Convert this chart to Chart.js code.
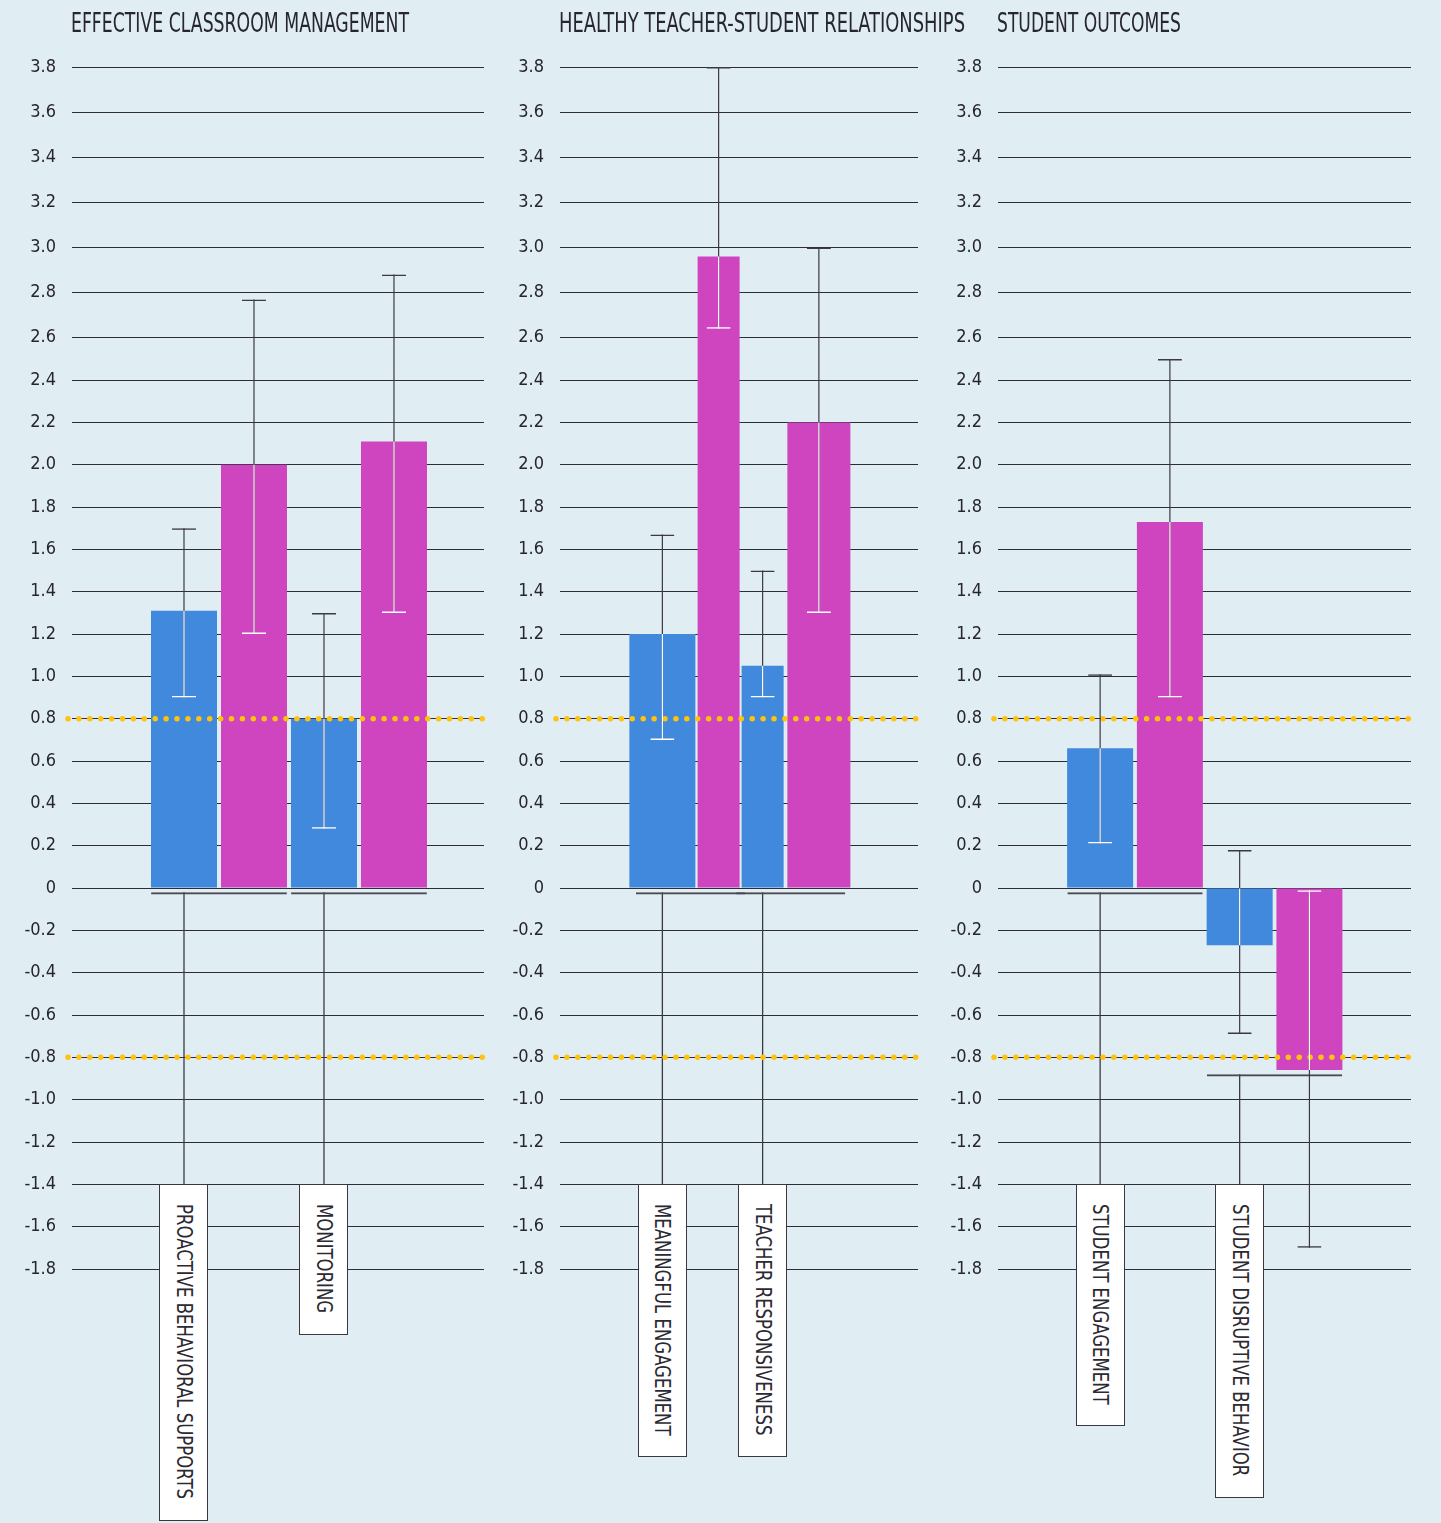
<!DOCTYPE html>
<html><head><meta charset="utf-8"><title>Effect sizes</title>
<script src="https://cdn.jsdelivr.net/npm/chart.js@4.4.1/dist/chart.umd.min.js"></script>
<style>
html,body{margin:0;padding:0;background:#E0EDF3;}
#stage{position:relative;width:1441px;height:1523px;overflow:hidden;background:#E0EDF3;}
#stage canvas{position:absolute;top:0;}
.title{position:absolute;top:8px;white-space:nowrap;font-family:"Liberation Sans Narrow","DejaVu Sans Condensed","Liberation Sans",sans-serif;font-size:26.5px;line-height:30px;color:#27252e;transform-origin:left top;display:inline-block;}
.lbl{position:absolute;box-sizing:border-box;width:49px;background:#fff;border:1.5px solid #3a3842;}
.lbltxt{position:absolute;top:19px;left:50%;writing-mode:vertical-rl;white-space:nowrap;font-family:"Liberation Sans Narrow","DejaVu Sans Condensed","Liberation Sans",sans-serif;font-size:22px;line-height:24px;color:#2b2932;transform-origin:center top;}
</style></head>
<body><div id="stage"></div>
<script>
// ---------------- DATA ----------------
const panelTitles = ['EFFECTIVE CLASSROOM MANAGEMENT', 'HEALTHY TEACHER-STUDENT RELATIONSHIPS', 'STUDENT OUTCOMES'];

const categories1 = ['PROACTIVE BEHAVIORAL SUPPORTS', 'MONITORING'];
const blueValues1 = [1.31, 0.80];
const blueLow1 = [0.90, 0.28];
const blueHigh1 = [1.70, 1.30];
const magentaValues1 = [2.00, 2.11];
const magentaLow1 = [1.20, 1.30];
const magentaHigh1 = [2.77, 2.88];

const categories2 = ['MEANINGFUL ENGAGEMENT', 'TEACHER RESPONSIVENESS'];
const blueValues2 = [1.20, 1.05];
const blueLow2 = [0.70, 0.90];
const blueHigh2 = [1.67, 1.50];
const magentaValues2 = [2.96, 2.20];
const magentaLow2 = [2.64, 1.30];
const magentaHigh2 = [3.80, 3.00];

const categories3 = ['STUDENT ENGAGEMENT', 'STUDENT DISRUPTIVE BEHAVIOR'];
const blueValues3 = [0.66, -0.27];
const blueLow3 = [0.21, -0.69];
const blueHigh3 = [1.01, 0.18];
const magentaValues3 = [1.73, -0.86];
const magentaLow3 = [0.90, -1.70];
const magentaHigh3 = [2.50, -0.01];

const yTickValues = [3.8, 3.6, 3.4, 3.2, 3.0, 2.8, 2.6, 2.4, 2.2, 2.0, 1.8, 1.6, 1.4, 1.2, 1.0, 0.8, 0.6, 0.4, 0.2, 0,
  -0.2, -0.4, -0.6, -0.8, -1.0, -1.2, -1.4, -1.6, -1.8];
const thresholdValues = [0.8, -0.8];
const labelBoxTopValue = -1.4;

// ---------------- STYLE / LAYOUT ----------------
const BLUE = '#4089DD', MAGENTA = '#CF45C0', GOLD = '#FFC20E';
const DARK = '#3b3944', WHITE = '#ffffff', GRID = '#2e2c37', TEXT = '#27252e';
const FONT = '"Liberation Sans Narrow", "DejaVu Sans Condensed", "Liberation Sans", sans-serif';
const STAGE_H = 1523, PAD_TOP = 67, PAD_BOTTOM = 254, AXIS_W = 72;
const CONNECTOR_GAP = 0.02;
const TITLE_TARGET_W = [338, 406, 184], LABEL1_TARGET_LEN = 295;
const SCALE_BREAK = 2.6, UPPER_STRETCH = 1.066;
const panelLayout = [
  {left: 0, width: 500, padRight: 16, xMin: -1.05, xMax: 1.893, catPct: 1,
   barW: {blue: [66, 66], mag: [66, 66]}},
  {left: 488, width: 442, padRight: 12, xMin: -1.3017, xMax: 2.2693, catPct: 1.122,
   barW: {blue: [66, 42], mag: [42, 63]}},
  {left: 926, width: 515, padRight: 30, xMin: -0.982, xMax: 1.978, catPct: 1,
   barW: {blue: [66, 66], mag: [66, 66]}}
];

// value axis whose upper part (above 2.6) is drawn slightly stretched, as in the original
class PiecewiseScale extends Chart.LinearScale {
  _fwd(v) { return v > SCALE_BREAK ? SCALE_BREAK + (v - SCALE_BREAK) * UPPER_STRETCH : v; }
  _inv(t) { return t > SCALE_BREAK ? SCALE_BREAK + (t - SCALE_BREAK) / UPPER_STRETCH : t; }
  getPixelForValue(value) {
    if (value === null || value === undefined || isNaN(value)) return NaN;
    const a = this._fwd(this.min), b = this._fwd(this.max);
    return this.getPixelForDecimal((this._fwd(value) - a) / (b - a));
  }
  getValueForPixel(pixel) {
    const a = this._fwd(this.min), b = this._fwd(this.max);
    return this._inv(a + this.getDecimalForPixel(pixel) * (b - a));
  }
}
PiecewiseScale.id = 'piecewise';
Chart.register(PiecewiseScale);

const panelSeries = [
  {cats: categories1, blue: blueValues1, blueLo: blueLow1, blueHi: blueHigh1, mag: magentaValues1, magLo: magentaLow1, magHi: magentaHigh1},
  {cats: categories2, blue: blueValues2, blueLo: blueLow2, blueHi: blueHigh2, mag: magentaValues2, magLo: magentaLow2, magHi: magentaHigh2},
  {cats: categories3, blue: blueValues3, blueLo: blueLow3, blueHi: blueHigh3, mag: magentaValues3, magLo: magentaLow3, magHi: magentaHigh3}
];

function insideBar(v, x) { return x >= Math.min(0, v) - 1e-9 && x <= Math.max(0, v) + 1e-9; }
const CLEAR = 'rgba(0,0,0,0)';

function capSet(values, lows, highs, stack, end) {
  return {
    type: 'bar', stack, order: 1, clip: false,
    data: values.map((v, i) => [lows[i], highs[i]]),
    backgroundColor: CLEAR,
    borderColor: values.map((v, i) => insideBar(v, end === 'top' ? highs[i] : lows[i]) ? WHITE : DARK),
    borderWidth: end === 'top' ? {top: 1.5, right: 0, bottom: 0, left: 0} : {top: 0, right: 0, bottom: 1.5, left: 0},
    borderSkipped: false, maxBarThickness: 24
  };
}
function stemDark(values, lows, highs, stack) {
  return {type: 'bar', stack, order: 4, clip: false, data: values.map((v, i) => [lows[i], highs[i]]),
    backgroundColor: DARK, borderWidth: 0, maxBarThickness: 1.2};
}
function stemWhite(values, lows, highs, stack) {
  return {type: 'bar', stack, order: 3, clip: false,
    data: values.map((v, i) => {
      const a = Math.max(lows[i], Math.min(0, v)), b = Math.min(highs[i], Math.max(0, v));
      return b > a ? [a, b] : null;
    }),
    backgroundColor: WHITE, borderWidth: 0, maxBarThickness: 1.2};
}
// one dataset per group so that each bar can keep the width it has in the original
function barSets(values, stack, color, widths) {
  return values.map((v, g) => ({
    type: 'bar', stack, order: 6, backgroundColor: color, borderWidth: 0,
    data: values.map((w, j) => j === g ? w : null),
    barPercentage: 1.4, maxBarThickness: widths[g]
  }));
}

const stage = document.getElementById('stage');
const charts = [];

panelSeries.forEach((P, pi) => {
  const L = panelLayout[pi];
  const cv = document.createElement('canvas');
  cv.width = L.width; cv.height = STAGE_H;
  cv.style.left = L.left + 'px'; cv.style.width = L.width + 'px'; cv.style.height = STAGE_H + 'px';
  stage.appendChild(cv);

  const groupIdx = P.cats.map((c, i) => i);
  const connLevel = P.blue.map((b, i) => Math.min(0, b, P.mag[i]) - CONNECTOR_GAP);
  const connData = connLevel.map(c => [labelBoxTopValue, c]);
  const pxPerUnit = (L.width - AXIS_W - L.padRight) / (L.xMax - L.xMin);
  const ext = 4 / pxPerUnit;

  const datasets = [];
  datasets.push(capSet(P.blue, P.blueLo, P.blueHi, 'a', 'top'));
  datasets.push(capSet(P.blue, P.blueLo, P.blueHi, 'a', 'bottom'));
  datasets.push(capSet(P.mag, P.magLo, P.magHi, 'b', 'top'));
  datasets.push(capSet(P.mag, P.magLo, P.magHi, 'b', 'bottom'));
  datasets.push(stemWhite(P.blue, P.blueLo, P.blueHi, 'a'));
  datasets.push(stemWhite(P.mag, P.magLo, P.magHi, 'b'));
  const anchorIndex = datasets.length;
  datasets.push(stemDark(P.blue, P.blueLo, P.blueHi, 'a'));
  datasets.push(stemDark(P.mag, P.magLo, P.magHi, 'b'));
  thresholdValues.forEach(t => datasets.push({
    type: 'line', order: 5, clip: false,
    data: [{x: L.xMin - ext, y: t}, {x: L.xMax + ext, y: t}],
    borderColor: GOLD, borderWidth: 5.5, borderDash: [0, 10.9], borderCapStyle: 'round',
    pointRadius: 0, fill: false, tension: 0
  }));
  datasets.push(...barSets(P.blue, 'a', BLUE, L.barW.blue));
  datasets.push(...barSets(P.mag, 'b', MAGENTA, L.barW.mag));
  // connector under each group, then a stem down to the category label
  datasets.push({type: 'bar', grouped: false, order: 7, clip: false, data: connData, backgroundColor: CLEAR,
    borderColor: '#4a4852', borderWidth: {top: 2, right: 0, bottom: 0, left: 0}, borderSkipped: false, barPercentage: 0.97});
  datasets.push({type: 'bar', stack: 'a', order: 7, clip: false, data: connData, backgroundColor: DARK,
    borderWidth: 0, maxBarThickness: 1.3});

  const chart = new Chart(cv.getContext('2d'), {
    type: 'bar',
    data: {labels: groupIdx, datasets},
    options: {
      responsive: false, animation: false, devicePixelRatio: 1, events: [],
      layout: {padding: {top: PAD_TOP, bottom: PAD_BOTTOM, left: 0, right: L.padRight}},
      plugins: {legend: {display: false}, tooltip: {enabled: false}, title: {display: false}},
      datasets: {bar: {categoryPercentage: L.catPct, barPercentage: 0.943, inflateAmount: 0}},
      scales: {
        x: {type: 'linear', min: L.xMin, max: L.xMax, display: false, offset: false,
          grid: {display: false},
          afterBuildTicks: s => { s.ticks = groupIdx.map(v => ({value: v})); }},
        y: {type: 'piecewise', min: Math.min(...yTickValues), max: Math.max(...yTickValues), stacked: false,
          afterBuildTicks: s => { s.ticks = yTickValues.map(v => ({value: v})); },
          afterFit: s => { s.width = AXIS_W; },
          ticks: {padding: 16, color: TEXT, autoSkip: false, font: {family: FONT, size: 18},
            callback: v => Math.abs(v) < 1e-9 ? '0' : Number(v).toFixed(1)},
          grid: {color: GRID, lineWidth: 1, drawTicks: false},
          border: {display: false}}
      }
    }
  });
  charts.push({chart, L, P, anchorIndex});
});

// titles
panelTitles.forEach((t, i) => {
  const d = document.createElement('div'); d.className = 'title'; d.textContent = t; stage.appendChild(d);
  const c = charts[i];
  const k = TITLE_TARGET_W[i] / d.getBoundingClientRect().width;
  d.style.left = (c.L.left + c.chart.chartArea.left - 1) + 'px';
  d.style.transform = 'scaleX(' + k + ')';
});

// category label boxes hanging from each group's connector
const boxes = [];
charts.forEach(c => {
  const meta = c.chart.getDatasetMeta(c.anchorIndex);
  const topPx = c.chart.scales.y.getPixelForValue(labelBoxTopValue);
  c.P.cats.forEach((name, g) => {
    const box = document.createElement('div'); box.className = 'lbl';
    const txt = document.createElement('div'); txt.className = 'lbltxt'; txt.textContent = name;
    box.appendChild(txt); stage.appendChild(box);
    box.style.left = (c.L.left + meta.data[g].x - 24.5) + 'px';
    box.style.top = (topPx - 0.75) + 'px';
    boxes.push({box, txt});
  });
});
const refLen = boxes[0].txt.getBoundingClientRect().height;
const kBox = LABEL1_TARGET_LEN / refLen;
boxes.forEach(b => {
  const h = b.txt.getBoundingClientRect().height;
  b.txt.style.transform = 'translateX(-50%) scaleY(' + kBox + ')';
  b.box.style.height = (h * kBox + 42) + 'px';
});
</script></body></html>
